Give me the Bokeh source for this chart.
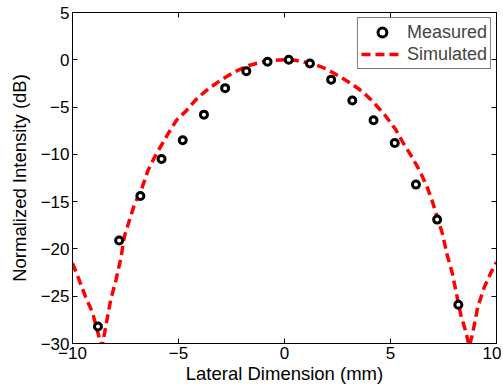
from bokeh.plotting import figure
from bokeh.models import LinearAxis, FixedTicker, Range1d, Legend, LegendItem
from bokeh.embed import file_html
from bokeh.resources import INLINE

# Measured data
meas_x = [-8.8, -7.8, -6.8, -5.8, -4.8, -3.8, -2.8, -1.8, -0.8, 0.2, 1.2, 2.2, 3.2, 4.2, 5.2, 6.2, 7.2, 8.2]
meas_y = [-28.2, -19.1, -14.4, -10.5, -8.5, -5.8, -3.0, -1.2, -0.2, 0.0, -0.4, -2.1, -4.3, -6.4, -8.8, -13.2, -16.9, -25.9]

# Simulated curve
sim_x = [-10, -9.7, -9.38, -9.06, -8.75, -8.6, -8.35, -8.19, -7.95, -7.71, -7.56, -7.32, -7.08,
         -6.76, -6.44, -6.13, -5.81, -5.49, -5.1, -4.62, -4.14, -3.59, -3.03, -2.4, -1.68, -1.0,
         -0.5, 0.0, 0.5, 1.33, 1.97, 2.52, 3.16, 3.71, 4.19, 4.75, 5.22, 5.62, 6.02, 6.41, 6.73,
         6.97, 7.45, 7.68, 7.92, 8.08, 8.32, 8.56, 8.71, 8.87, 9.11, 9.43, 9.75, 10]
sim_y = [-21.5, -23.2, -25.1, -26.7, -29.3, -30.3, -27.2, -25.3, -23.3, -20.9, -18.75, -17.0, -15.3,
         -13.8, -11.7, -10.3, -9.06, -7.82, -6.4, -5.36, -4.12, -3.07, -2.19, -1.31, -0.6, -0.2,
         -0.05, 0.0, -0.05, -0.42, -0.95, -1.66, -2.54, -3.42, -4.48, -5.89, -7.29, -8.88, -10.3, -11.88, -13.47,
         -14.95, -18.4, -20.7, -22.6, -24.4, -27.0, -28.8, -30.3, -29.0, -26.2, -24.0, -22.45, -21.4]

x_ticks = [-10, -5, 0, 5, 10]
y_ticks = [-30, -25, -20, -15, -10, -5, 0, 5]

FONT = "Liberation Sans"
TICK_FS = "17px"
LABEL_FS = "18.5px"
LEGEND_FS = "18px"

def lab(v):
    return str(v).replace("-", "\u2212")

p = figure(width=501, height=389, output_backend="svg", toolbar_location=None,
           x_range=Range1d(-10, 10), y_range=Range1d(-30, 5),
           min_border_left=72, min_border_right=5, min_border_top=12, min_border_bottom=46)
p.xgrid.visible = False
p.ygrid.visible = False
p.outline_line_color = "black"
p.outline_line_width = 1
p.background_fill_color = "white"
p.border_fill_color = "white"

def style_axis(ax, ticks, show_labels):
    ax.ticker = FixedTicker(ticks=ticks)
    ax.major_tick_in = 5
    ax.major_tick_out = 0
    ax.minor_tick_line_color = None
    ax.axis_line_color = "black"
    ax.major_tick_line_color = "black"
    if show_labels:
        ax.major_label_overrides = {t: lab(t) for t in ticks}
        ax.major_label_text_font = FONT
        ax.major_label_text_font_size = TICK_FS
        ax.major_label_text_color = "black"
        ax.major_label_standoff = 3
    else:
        ax.major_label_overrides = {t: "" for t in ticks}
        ax.major_label_text_color = None
        ax.major_label_standoff = 0

style_axis(p.xaxis[0], x_ticks, True)
style_axis(p.yaxis[0], y_ticks, True)
p.xaxis[0].axis_label = "Lateral Dimension (mm)"
p.yaxis[0].axis_label = "Normalized Intensity (dB)"
for ax in (p.xaxis[0], p.yaxis[0]):
    ax.axis_label_text_font = FONT
    ax.axis_label_text_font_size = LABEL_FS
    ax.axis_label_text_font_style = "normal"
    ax.axis_label_text_color = "black"
p.xaxis[0].axis_label_standoff = 1
p.yaxis[0].axis_label_standoff = 8

top = LinearAxis()
style_axis(top, x_ticks, False)
p.add_layout(top, "above")
right = LinearAxis()
style_axis(right, y_ticks, False)
p.add_layout(right, "right")

r_sim = p.line(sim_x, sim_y, line_color="#ff0000", line_width=3.5, line_dash="9 5")
r_meas = p.scatter(meas_x, meas_y, marker="circle", size=7, fill_color="white",
                   line_color="black", line_width=3)

legend = Legend(items=[LegendItem(label="Measured", renderers=[r_meas]),
                       LegendItem(label="Simulated", renderers=[r_sim])],
                location="top_right")
legend.label_text_font = FONT
legend.label_text_font_size = LEGEND_FS
legend.border_line_color = "black"
legend.border_line_width = 1
legend.margin = 5
legend.padding = 3
legend.spacing = 0
legend.glyph_width = 42
legend.glyph_height = 22
legend.label_height = 22
legend.label_standoff = 4
legend.background_fill_alpha = 1
p.add_layout(legend, "center")

open("out.html", "w").write(file_html(p, INLINE))
